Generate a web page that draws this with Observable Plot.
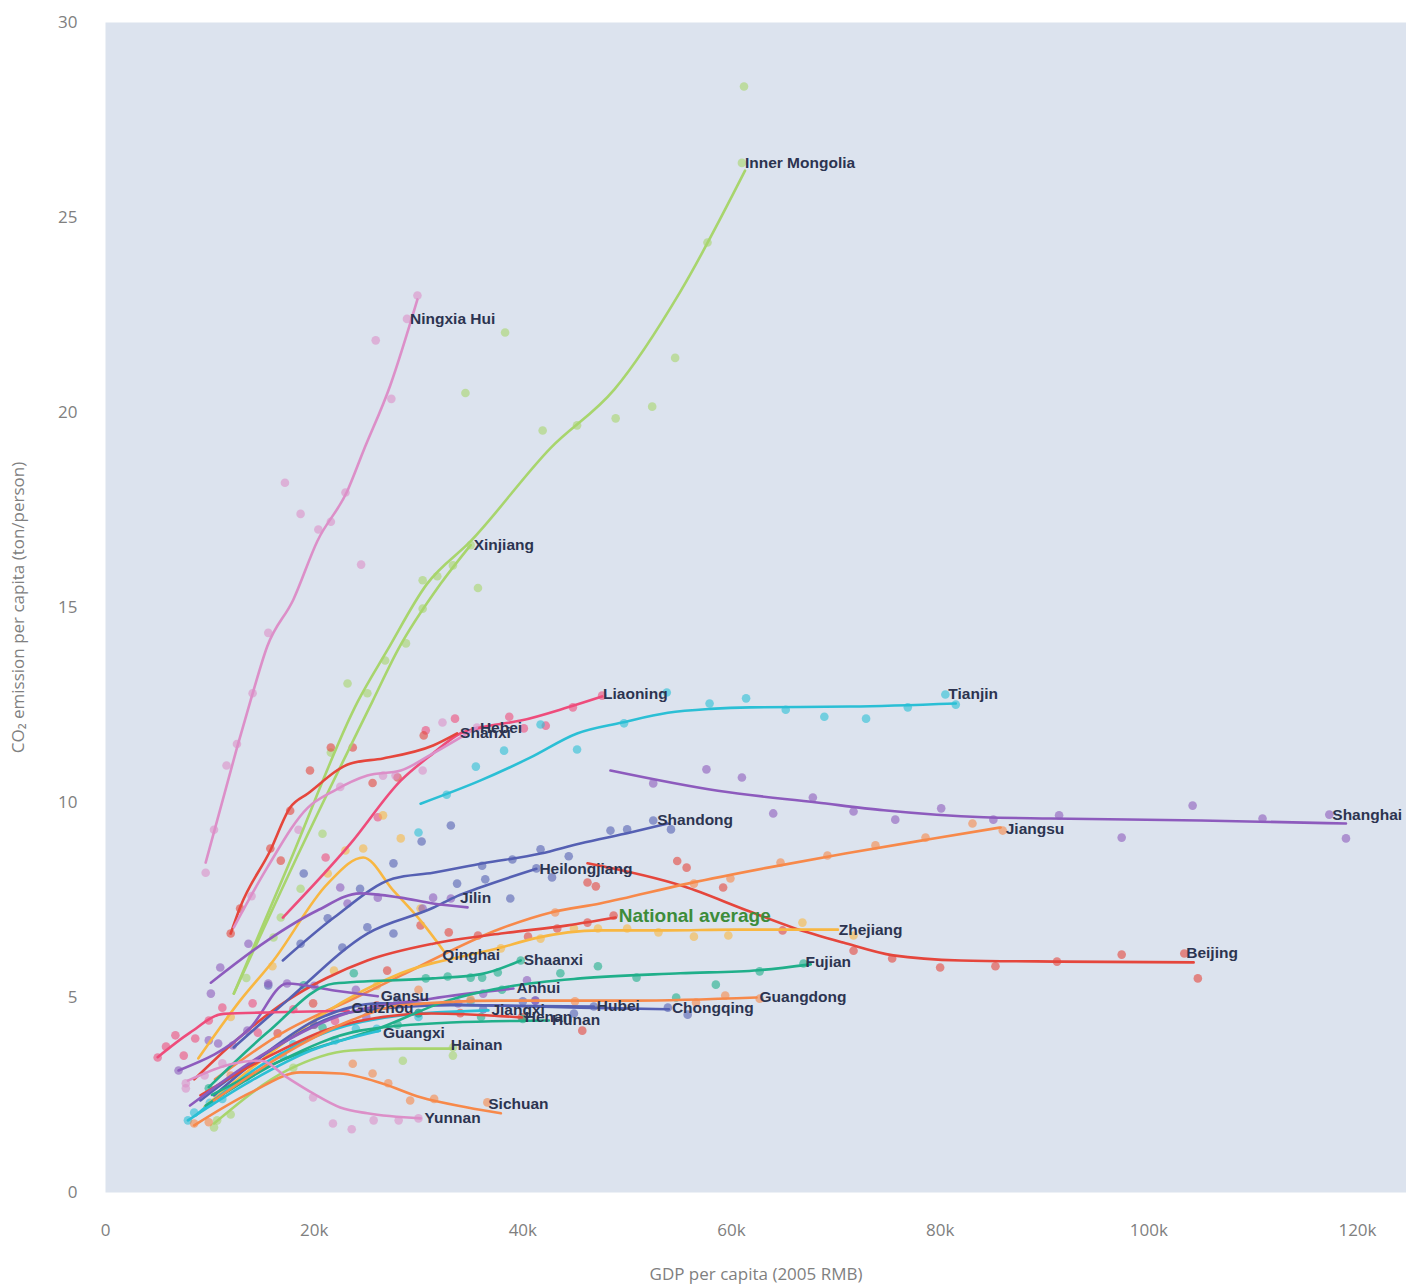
<!DOCTYPE html>
<html>
<head>
<meta charset="utf-8">
<script src="https://cdn.jsdelivr.net/npm/d3@7"></script>
<script src="https://cdn.jsdelivr.net/npm/@observablehq/plot@0.6"></script>
<style>
  html, body { margin: 0; padding: 0; background: #ffffff; }
  #chart svg { display: block; }
</style>
</head>
<body>
<div id="chart"></div>
<script>
// ---------- categories & colours ----------
const provinces = ["Ningxia Hui","Inner Mongolia","Xinjiang","Liaoning","Shanxi","Hebei","Tianjin","Shanghai","Beijing",
  "Jiangsu","Zhejiang","Qinghai","National average","Heilongjiang","Shandong","Jilin","Gansu","Guizhou","Chongqing",
  "Hubei","Jiangxi","Henan","Hunan","Anhui","Shaanxi","Fujian","Guangdong","Guangxi","Hainan","Sichuan","Yunnan"];
const provinceColors = ["#dc8fc8","#a8d56d","#a8d56d","#ee4c7b","#e5463c","#dc8fc8","#2bbfd5","#8d5bbd","#e5463c",
  "#f7894a","#f8b742","#f8b742","#e5463c","#5560b3","#5560b3","#8d5bbd","#8d5bbd","#ee4c7b","#5560b3",
  "#5560b3","#2bbfd5","#e5463c","#20af8a","#8d5bbd","#20af8a","#20af8a","#f7894a","#2bbfd5","#a8d56d","#f7894a","#dc8fc8"];

// ---------- trend lines: [GDP per capita (k 2005 RMB), CO2 t/person] ----------
const lineNingxia = [[9.6,8.46],[12.6,11.4],[14,12.7],[15.5,14.0],[18,15.2],[20.3,16.7],[23.2,18.0],[24.7,19.0],[27.3,20.7],[29.9,22.9]];
const lineInnerMongolia = [[12.3,5.1],[17.7,8.5],[24.2,12.6],[27,13.9],[30.8,15.6],[35,16.7],[42.7,19.1],[48.8,20.6],[55.1,23.1],[61.3,26.2]];
const lineXinjiang = [[12.3,5.1],[18.7,8.8],[25.6,12.6],[28,13.9],[32.1,15.6],[35,16.6]];
const lineLiaoning = [[17,7.05],[23.5,8.95],[28.3,10.56],[31.4,11.26],[34,11.77],[35.9,11.92],[39.8,12.1],[44.3,12.44],[47.6,12.72]];
const lineShanxi = [[12,6.64],[12.9,7.31],[15.8,8.77],[17.7,9.87],[19.4,10.23],[23.5,11.0],[26.6,11.13],[31.4,11.46],[33.7,11.77]];
const lineHebei = [[12.3,6.8],[15.5,8.33],[19.4,9.87],[21.9,10.3],[25.1,10.69],[28.3,10.82],[31.4,11.26],[35.6,11.92]];
const lineTianjin = [[30.2,9.97],[35.9,10.56],[40.7,11.15],[45.2,11.77],[49.5,12.05],[53.9,12.3],[58,12.4],[61.8,12.44],[71.4,12.46],[81.5,12.54]];
const lineShanghai = [[48.4,10.82],[58.7,10.3],[68.2,10.0],[74.6,9.8],[84.2,9.62],[90.6,9.59],[105,9.54],[118.9,9.46]];
const lineBeijing = [[46.2,8.44],[55.4,7.85],[61.5,7.23],[65.9,6.79],[70.7,6.41],[75.5,6.08],[82,5.95],[91.5,5.92],[104.3,5.9]];
const lineJiangsu = [[10.5,2.9],[17,4.1],[24,5.0],[28.3,5.56],[37.9,6.77],[42.7,7.18],[47.4,7.41],[55.8,7.92],[63.5,8.33],[70.9,8.69],[78.8,9.05],[85.8,9.36]];
const lineZhejiang = [[9.5,2.2],[15,3.4],[21,4.6],[28.3,5.62],[37.9,6.28],[41,6.51],[47.4,6.72],[53.9,6.72],[60.2,6.74],[70.2,6.74]];
const lineQinghai = [[8.9,3.44],[12.9,4.92],[16.1,5.95],[21.3,7.92],[24.7,8.59],[27.6,7.74],[30.2,6.97],[32.4,6.2]];
const lineNational = [[8.5,2.9],[12.5,3.9],[17.4,4.92],[21.2,5.5],[25.1,5.95],[31.4,6.38],[37.9,6.64],[44.3,6.85],[48.9,7.05]];
const lineHeilongjiang = [[12.3,3.72],[17.4,4.92],[25.1,6.64],[31.4,7.3],[33.7,7.6],[35.9,7.82],[41.3,8.3]];
const lineShandong = [[17,5.95],[21.9,7.05],[27.6,8.05],[31.4,8.2],[36.2,8.44],[41.7,8.69],[45.5,8.95],[50.3,9.23],[53.9,9.46]];
const lineJilin = [[10.1,5.38],[15.5,6.46],[20.3,7.23],[24.4,7.67],[28.3,7.56],[31.4,7.41],[34.7,7.31]];
const lineGansu = [[7,3.13],[13.9,4.23],[17.4,5.36],[21.9,5.18],[26.1,5.03]];
const lineGuizhou = [[5,3.47],[8.1,4.1],[11.3,4.58],[16.1,4.62],[23.3,4.66]];
const lineChongqing = [[10.4,2.49],[15,3.5],[20,4.4],[26.4,4.85],[36.7,4.8],[45.5,4.74],[54,4.7]];
const lineHubei = [[9.1,2.36],[15.8,3.64],[23.5,4.62],[33.1,4.8],[46.8,4.77]];
const lineJiangxi = [[8.6,1.97],[14.9,3.26],[21.6,4.15],[28.3,4.54],[36.7,4.67]];
const lineHenan = [[9.1,2.49],[15.8,3.51],[22.5,4.28],[31.2,4.59],[39.9,4.49]];
const lineHunan = [[9.6,2.23],[16.8,3.38],[24.4,4.15],[33.1,4.36],[42.5,4.41]];
const lineAnhui = [[8.1,2.23],[14.9,3.51],[22.5,4.54],[31.2,4.97],[39.1,5.23]];
const lineShaanxi = [[9.9,2.7],[15.5,4.1],[21.9,5.36],[31.4,5.49],[36,5.6],[39.8,5.95]];
const lineFujian = [[10.2,2.5],[17,3.4],[26.4,4.23],[32.8,4.92],[39.1,5.3],[45.5,5.49],[55.1,5.62],[62.6,5.7],[67.6,5.85]];
const lineGuangdong = [[10.4,2.36],[17.7,3.64],[23.5,4.41],[28.3,4.8],[37.9,4.92],[50.6,4.92],[62.4,5.0]];
const lineGuangxi = [[7.9,1.85],[14,2.87],[19.7,3.64],[26.3,4.15]];
const lineHainan = [[10.4,1.77],[17.4,3.13],[23.5,3.64],[28.3,3.69],[33.3,3.69]];
const lineSichuan = [[8.5,1.72],[13.9,2.56],[18.7,3.08],[22.5,3.05],[26.6,2.79],[30.2,2.44],[34.7,2.18],[37.9,2.03]];
const lineYunnan = [[7.9,2.87],[12.3,3.31],[14.9,3.38],[17.4,2.95],[19.9,2.54],[22.5,2.18],[25.1,2.03],[30.2,1.9]];

// ---------- yearly observations ----------
const dotsNingxia = [[9.6,8.2],[10.4,9.3],[11.6,10.95],[12.6,11.5],[14.1,12.8],[15.6,14.35],[17.2,18.2],[18.7,17.4],[20.4,17.0],[21.6,17.2],[23.0,17.95],[24.5,16.1],[25.9,21.85],[27.4,20.35],[28.9,22.4],[29.9,23.0]];
const dotsInnerMongolia = [[61.2,28.36],[61,26.4],[57.7,24.36],[54.6,21.4],[52.4,20.15],[48.9,19.85],[45.2,19.67],[41.9,19.54],[38.3,22.05],[34.5,20.5],[23.2,13.05],[20.8,9.2],[16.1,6.54],[13.5,5.5]];
const dotsXinjiang = [[35,16.6],[35.7,15.5],[33.3,16.08],[31.8,15.8],[30.4,15.7],[30.4,14.97],[28.8,14.08],[26.8,13.64],[25.1,12.8],[21.6,11.28],[18.7,7.79],[16.8,7.05]];
const dotsLiaoning = [[21.1,8.59],[26.1,9.62],[30.7,11.85],[33.5,12.15],[38.7,12.2],[40.1,11.9],[42.2,11.97],[44.8,12.44],[47.6,12.74]];
const dotsShanxi = [[12,6.64],[12.9,7.28],[15.8,8.82],[16.8,8.51],[17.7,9.79],[19.6,10.82],[21.6,11.41],[23.7,11.41],[25.6,10.5],[28,10.64],[30.5,11.72]];
const dotsHebei = [[14,7.6],[18.5,9.3],[22.5,10.4],[26.6,10.69],[27.8,10.69],[30.4,10.82],[32.3,12.05],[35.6,11.92]];
const dotsTianjin = [[30,9.23],[32.7,10.2],[35.5,10.92],[38.2,11.33],[41.7,12.0],[45.2,11.36],[49.7,12.03],[53.8,12.82],[57.9,12.54],[61.4,12.67],[65.2,12.38],[68.9,12.2],[72.9,12.15],[76.9,12.44],[80.5,12.77],[81.5,12.51]];
const dotsShanghai = [[52.5,10.49],[57.6,10.85],[61,10.64],[64,9.72],[67.8,10.13],[71.7,9.77],[75.7,9.56],[80.1,9.85],[85.1,9.56],[91.4,9.67],[97.4,9.1],[104.2,9.92],[110.9,9.59],[117.3,9.69],[118.9,9.08]];
const dotsBeijing = [[46.2,7.95],[47,7.85],[54.8,8.5],[55.7,8.33],[59.2,7.82],[64.9,6.72],[71.7,6.2],[75.4,6.0],[80,5.77],[85.3,5.8],[91.2,5.92],[97.4,6.1],[103.4,6.13],[104.7,5.49]];
const dotsJiangsu = [[12,3.0],[20,4.3],[43.1,7.18],[56.4,7.92],[59.9,8.05],[64.7,8.46],[69.2,8.64],[73.8,8.9],[78.6,9.1],[83.1,9.46],[86,9.28]];
const dotsZhejiang = [[26,5.3],[37.9,6.26],[41.7,6.51],[44.9,6.77],[47.2,6.77],[50,6.77],[53,6.67],[56.4,6.56],[59.7,6.59],[66.8,6.92],[71.7,6.59]];
const dotsQinghai = [[12,4.5],[16,5.8],[21.3,8.18],[23,8.77],[24.7,8.82],[26.6,9.67],[28.3,9.08],[30.2,7.28],[21.9,5.69]];
const dotsNational = [[19.9,4.85],[27,5.69],[30.2,6.85],[32.9,6.67],[35.7,6.59],[40.5,6.56],[43.3,6.77],[46.2,6.92],[48.7,7.1]];
const dotsHeilongjiang = [[15.6,5.31],[18.7,6.38],[22.7,6.28],[25.1,6.8],[27.6,6.64],[33.7,7.92],[36.4,8.03],[38.8,7.54],[41.3,8.31],[42.8,8.08]];
const dotsShandong = [[19,8.18],[21.3,7.03],[24.4,7.79],[27.6,8.44],[30.3,9.0],[33.1,9.41],[36.1,8.38],[39,8.54],[41.7,8.8],[44.4,8.62],[48.4,9.28],[50,9.31],[52.5,9.54],[54.2,9.31]];
const dotsJilin = [[10.1,5.1],[11,5.77],[13.7,6.38],[22.5,7.82],[23.2,7.41],[26.1,7.56],[30.4,7.28],[31.4,7.56],[33.1,7.54]];
const dotsGansu = [[7,3.13],[9.9,3.9],[10.8,3.82],[12.2,3.77],[13.6,4.15],[15.6,5.36],[17.4,5.36],[20,5.3],[24,5.2]];
const dotsGuizhou = [[5,3.46],[5.8,3.74],[6.7,4.03],[7.5,3.51],[8.6,3.95],[9.9,4.41],[11.2,4.74],[14.1,4.85],[14.6,4.1],[18,4.7],[22,4.4]];
const dotsChongqing = [[30,4.6],[40,4.9],[44.9,4.59],[53.9,4.74],[55.8,4.56]];
const dotsHubei = [[20,4.3],[28,4.9],[36.2,4.7],[41.2,4.92],[46.8,4.77]];
const dotsJiangxi = [[10,2.3],[18,3.8],[24,4.2],[30,4.5],[35,4.9]];
const dotsHenan = [[16.5,4.08],[26,4.8],[34,4.6],[39.9,4.49],[45.7,4.15]];
const dotsHunan = [[20.8,4.23],[28,4.3],[36,4.5],[40,4.45]];
const dotsAnhui = [[25,4.5],[33.8,4.85],[36.2,5.1],[40.4,5.44],[41.2,4.92]];
const dotsShaanxi = [[9.9,2.67],[19,5.31],[23.8,5.62],[30.7,5.49],[32.8,5.54],[35,5.51],[36.1,5.51],[37.6,5.64],[39.8,5.95]];
const dotsFujian = [[30,4.6],[38,5.2],[43.6,5.62],[47.2,5.8],[50.9,5.51],[54.7,5.0],[58.5,5.33],[62.7,5.67],[66.9,5.87]];
const dotsGuangdong = [[30,5.2],[35,4.95],[45,4.9],[56.6,4.87],[59.4,5.05],[62.7,4.97]];
const dotsGuangxi = [[7.9,1.85],[8.5,2.05],[11.2,2.4],[13.5,2.95],[17,3.5],[22,3.9],[26,4.2]];
const dotsHainan = [[10.7,1.85],[10.4,1.67],[12,2.0],[18,3.2],[28.5,3.38],[33.3,3.51],[33.3,3.72]];
const dotsSichuan = [[8.5,1.77],[9.9,1.8],[23.7,3.3],[25.6,3.05],[27.1,2.8],[29.2,2.36],[31.5,2.4],[36.6,2.31]];
const dotsYunnan = [[7.7,2.67],[7.7,2.8],[9.5,3.0],[11.2,3.31],[19.9,2.44],[21.8,1.77],[23.6,1.62],[25.7,1.85],[28.1,1.85],[30,1.9]];

// ---------- label anchor points (last observation) ----------
const labelPoints = [["Inner Mongolia",61,26.4],["Ningxia Hui",28.9,22.4],["Xinjiang",35,16.6],["Liaoning",47.4,12.77],
  ["Tianjin",80.5,12.77],["Hebei",35.6,11.92],["Shanxi",33.7,11.77],["Shanghai",117.3,9.69],["Shandong",52.6,9.54],
  ["Jiangsu",86,9.33],["Heilongjiang",41.3,8.3],["Jilin",33.7,7.54],["Zhejiang",70,6.74],["Beijing",103.3,6.13],
  ["Qinghai",32,6.08],["Shaanxi",39.8,5.95],["Fujian",66.8,5.9],["Anhui",39.1,5.23],["Gansu",26.1,5.03],
  ["Guangdong",62.4,5.0],["Guizhou",23.3,4.72],["Jiangxi",36.7,4.67],["Hubei",46.8,4.77],["Chongqing",54,4.72],
  ["Henan",39.9,4.49],["Hunan",42.5,4.41],["Guangxi",26.3,4.1],["Hainan",32.8,3.77],["Sichuan",36.4,2.26],["Yunnan",30.3,1.9]];
const nationalLabel = [["National average",48.9,7.1]];

// ---------- axes ----------
const xTicks = [0,20,40,60,80,100,120];
const yTicks = [0,5,10,15,20,25,30];

// ---------- tables built from the arrays above ----------
const seriesLines = [lineNingxia,lineInnerMongolia,lineXinjiang,lineLiaoning,lineShanxi,lineHebei,lineTianjin,lineShanghai,lineBeijing,
  lineJiangsu,lineZhejiang,lineQinghai,lineNational,lineHeilongjiang,lineShandong,lineJilin,lineGansu,lineGuizhou,lineChongqing,
  lineHubei,lineJiangxi,lineHenan,lineHunan,lineAnhui,lineShaanxi,lineFujian,lineGuangdong,lineGuangxi,lineHainan,lineSichuan,lineYunnan];
const seriesDots = [dotsNingxia,dotsInnerMongolia,dotsXinjiang,dotsLiaoning,dotsShanxi,dotsHebei,dotsTianjin,dotsShanghai,dotsBeijing,
  dotsJiangsu,dotsZhejiang,dotsQinghai,dotsNational,dotsHeilongjiang,dotsShandong,dotsJilin,dotsGansu,dotsGuizhou,dotsChongqing,
  dotsHubei,dotsJiangxi,dotsHenan,dotsHunan,dotsAnhui,dotsShaanxi,dotsFujian,dotsGuangdong,dotsGuangxi,dotsHainan,dotsSichuan,dotsYunnan];

const lineRows = [], dotRows = [];
provinces.forEach((name, i) => {
  seriesLines[i].forEach(([x, y]) => lineRows.push({name, x, y, c: provinceColors[i]}));
  seriesDots[i].forEach(([x, y]) => dotRows.push({name, x, y, c: provinceColors[i]}));
});
const labelRows = labelPoints.map(([name, x, y]) => ({name, x, y}));
const natRows = nationalLabel.map(([name, x, y]) => ({name, x, y}));

const chart = Plot.plot({
  width: 1406,
  height: 1286,
  marginLeft: 105,
  marginRight: 0,
  marginTop: 22,
  marginBottom: 94,
  style: {fontFamily: "'Open Sans', sans-serif", color: "#808080", background: "#ffffff", overflow: "visible"},
  x: {domain: [0, 124.7]},
  y: {domain: [0, 30]},
  color: {type: "identity"},
  marks: [
    Plot.frame({fill: "#dce3ee", stroke: null}),
    Plot.axisX({ticks: xTicks, tickSize: 0, tickPadding: 31, fontSize: 17,
      tickFormat: d => d === 0 ? "0" : d + "k",
      label: "GDP per capita (2005 RMB)", labelAnchor: "center", labelOffset: 87, labelArrow: "none"}),
    Plot.axisY({ticks: yTicks, tickSize: 0, tickPadding: 28, fontSize: 17,
      label: "CO₂ emission per capita (ton/person)", labelAnchor: "center", labelOffset: 94, labelArrow: "none"}),
    Plot.dot(dotRows, {x: "x", y: "y", fill: "c", r: 4.3, fillOpacity: 0.6, stroke: null}),
    Plot.line(lineRows, {x: "x", y: "y", z: "name", stroke: "c", strokeWidth: 2.6, curve: "monotone-x"}),
    Plot.text(labelRows, {x: "x", y: "y", text: "name", textAnchor: "start", dx: 3, fill: "#2c3450",
      fontWeight: "bold", fontSize: 15.5, fontFamily: "'Liberation Sans', Arial, sans-serif"}),
    Plot.text(natRows, {x: "x", y: "y", text: "name", textAnchor: "start", dx: 3, fill: "#3d8c3a",
      fontWeight: "bold", fontSize: 19, fontFamily: "'Liberation Sans', Arial, sans-serif"})
  ]
});
document.getElementById("chart").appendChild(chart);
</script>
</body>
</html>
